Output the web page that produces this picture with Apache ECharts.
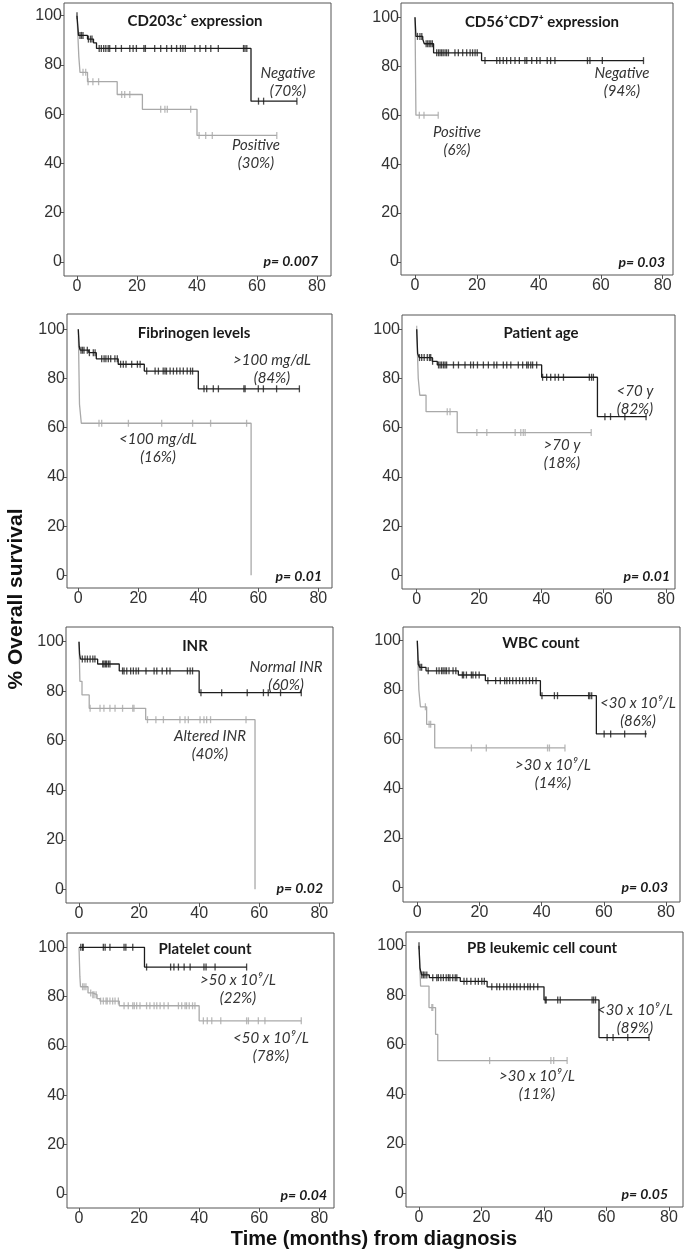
<!DOCTYPE html>
<html>
<head>
<meta charset="utf-8">
<script src="https://cdn.jsdelivr.net/npm/echarts@6/dist/echarts.min.js"></script>
<style>
html,body{margin:0;padding:0;background:#fff;}
#chart{width:685px;height:1251px;}
</style>
</head>
<body>
<div id="chart"></div>
<script>
// ---------------- DATA ----------------
const xTicks = [0, 20, 40, 60, 80];
const yTicks = [0, 20, 40, 60, 80, 100];
const panelTitles = ['CD203c\u207A expression', 'CD56\u207ACD7\u207A expression', 'Fibrinogen levels', 'Patient age',
  'INR', 'WBC count', 'Platelet count', 'PB leukemic cell count'];
const pValues = ['p= 0.007', 'p= 0.03', 'p= 0.01', 'p= 0.01', 'p= 0.02', 'p= 0.03', 'p= 0.04', 'p= 0.05'];
const blackLabels = [['Negative', '(70%)'], ['Negative', '(94%)'], ['>100 mg/dL', '(84%)'], ['<70 y', '(82%)'],
  ['Normal INR', '(60%)'], ['<30 x 10\u2079/L', '(86%)'], ['>50 x 10\u2079/L', '(22%)'], ['<30 x 10\u2079/L', '(89%)']];
const grayLabels = [['Positive', '(30%)'], ['Positive', '(6%)'], ['<100 mg/dL', '(16%)'], ['>70 y', '(18%)'],
  ['Altered INR', '(40%)'], ['>30 x 10\u2079/L', '(14%)'], ['<50 x 10\u2079/L', '(78%)'], ['>30 x 10\u2079/L', '(11%)']];

// Step curves: [time (months), survival % from that time on]
const p1BlackSteps = [[0,100],[0.5,92],[3.5,90.5],[5.5,89],[6.5,86.7],[58,65.3],[73.3,65.3]];
const p1BlackCens = [0,1,1.5,2,3.8,4.5,5,7.4,8.1,8.9,9.6,10.4,10.9,12.9,14.8,17.6,18.7,19.8,22.3,22.8,25.9,27.9,29.9,31.5,33.2,34.5,35.3,36.1,39.3,41,42.9,44.6,47.1,55.5,56,56.6,60.5,62.2,73.3];
const p1GraySteps = [[0,100],[0.6,83.5],[1,77],[3.5,73.2],[13.4,68],[21.8,62],[40,51.4],[66.6,51.4]];
const p1GrayCens = [2,2.9,3.7,5.3,7.2,14.9,15.9,17.6,27.9,29.3,30.1,37.9,40.7,42.9,45.1,66.6];

const p2BlackSteps = [[0,100],[0.3,92.2],[2.5,91],[3,89.2],[6,85.5],[21.5,82.3],[73.8,82.3]];
const p2BlackCens = [0.8,1.6,2.2,3.6,4.1,4.6,5.1,5.6,7,7.6,8.1,8.6,9.1,9.7,10.2,10.8,12.9,14,15.4,16.7,17.8,18.6,19.4,20.1,22.6,26.4,27.4,28.5,29.6,30.9,32.3,33.7,35.5,36.1,37.7,39.3,40.4,42.7,43.8,45.2,55.7,56.5,60.5,73.8];
const p2GraySteps = [[0,100],[0.3,60],[7.5,60]];
const p2GrayCens = [1.4,2.9,7.5];

const p3BlackSteps = [[0,100],[0.3,93],[0.6,91.5],[3.5,90.5],[6,88],[13.3,85.8],[22,83],[40,75.8],[73.7,75.8]];
const p3BlackCens = [0.9,1.4,1.9,3,3.7,5,5.6,7.8,8.6,9.2,10,10.8,12.2,13,14.1,15,15.9,17.8,19.7,20.6,22.8,25.6,26.7,28.3,28.9,29.4,30.6,31.7,32.8,33.9,35,36.3,37.4,38.1,41.9,42.8,45,46.7,55.2,55.6,60,61.7,66.1,73.7];
const p3GraySteps = [[0,100],[0.4,69.5],[1,61.8],[57.6,0]];
const p3GrayCens = [6.9,7.8,16.7,27.8,38.1,44.1,56.1];

const p4BlackSteps = [[0,100],[0.3,90.2],[0.8,88.5],[5,87],[6.6,85.5],[40.1,80.5],[58,64.5],[73.7,64.5]];
const p4BlackCens = [0.9,1.6,2.4,3.4,4.1,4.5,5.1,7,7.5,8,8.6,9.1,9.6,11.8,13.4,15.5,17.3,18.2,19.5,21.4,23,24.8,25.7,27.8,28.9,30.2,32.6,34,35.3,35.8,36.6,37.2,38.5,40.4,41.7,43,44.4,45.5,47.1,55.4,56.1,56.7,60.4,62.2,66.8,73.6];
const p4GraySteps = [[0,100],[0.5,80],[1,73.2],[3,66.5],[13,58],[56,58]];
const p4GrayCens = [0,9.8,10.7,19.3,22.5,31.6,33.4,34.2,34.8,56];

const p5BlackSteps = [[0,100],[0.2,95],[0.5,93],[6.2,91],[13.4,88.2],[40,79.4],[74,79.4]];
const p5BlackCens = [1.1,2,2.8,3.7,4.6,5.3,7.9,8.3,8.8,9.2,9.8,10.3,14.5,15,15.9,17.2,18.1,19,19.8,22.3,25,25.9,27.7,29.2,30.3,36.1,37,37.8,40.6,47.5,56,61.4,63,67.1,74];
const p5GraySteps = [[0,100],[0.3,84],[1,78.5],[3.4,73.1],[22.2,68.5],[58.6,0]];
const p5GrayCens = [3.7,7,8.3,10.3,12,14.5,17.9,18.3,22.8,25.6,28.1,33.6,35.3,36.4,40.3,41.6,42.5,43.8,55.6];

const p6BlackSteps = [[0,100],[0.3,90.5],[0.8,89.2],[2.8,87.8],[13.2,86.1],[21.9,83.8],[39.6,77.7],[57.6,62.2],[73.8,62.2]];
const p6BlackCens = [0.5,0.9,1.4,3.5,6.2,7,7.8,8.3,8.9,9.4,10.2,11.5,12.4,14.5,14.9,15.8,17.4,17.9,18.8,19.9,22.7,25.2,26.7,28.1,28.8,29.7,30.7,31.8,32.9,33.9,35,36.1,37.1,38.2,40.1,44.1,45.1,55.1,55.5,56.1,60.1,62.2,66.7,73.4];
const p6GraySteps = [[0,100],[0.5,80],[1,73.2],[3,66.1],[5.6,56.5],[47.5,56.5]];
const p6GrayCens = [2.6,3.8,4.3,17.4,22.2,41.9,42.5,47.5];

const p7BlackSteps = [[0,100],[21.8,92],[55.8,92]];
const p7BlackCens = [0.6,1.2,1.4,8.1,8.7,10.3,15,15.6,17.9,22.5,30.5,31.6,33.1,35,37,41.6,42.3,45.3,55.8];
const p7GraySteps = [[0,100],[0.3,88],[0.5,84],[3,81.5],[4.5,80.8],[6,79.2],[7,78.2],[13.4,76.3],[40,70.2],[74,70.2]];
const p7GrayCens = [1.2,1.7,2.3,3.9,4.6,5,5.7,7.2,8.1,9,9.4,10.3,11.2,12,13.1,15,16.4,17.9,18.4,19.2,20.3,22.5,23.6,25,25.9,27,28.3,29.7,33.1,34.2,35.3,35.8,36.7,37.8,38.6,41.4,42.7,44.2,47.2,55.8,56.4,59.7,61.9,74];

const p8BlackSteps = [[0,100],[0.3,91],[0.8,88.2],[3.3,87.1],[13.2,85.6],[21.8,83.4],[40,78.1],[57.6,62.9],[73.6,62.9]];
const p8BlackCens = [0,0.9,1.4,1.9,2.5,4.4,5.7,6.2,7,7.8,8.7,9.4,9.9,10.8,11.6,12.1,14.4,15.3,16.6,18,19,20.1,20.9,23.3,24.9,25.8,27.1,28.1,29.2,30.3,31.3,32.4,33.7,34.8,35.6,36.7,38,40.4,40.7,44.4,45.2,55.4,55.9,56.5,60.2,62.1,66.8,73.6];
const p8GraySteps = [[0,100],[0.5,83.7],[3.2,75],[5.3,64.2],[6,53.6],[47.4,53.6]];
const p8GrayCens = [4.1,4.4,22.6,42.2,43.1,47.4];

const blackSteps = [p1BlackSteps,p2BlackSteps,p3BlackSteps,p4BlackSteps,p5BlackSteps,p6BlackSteps,p7BlackSteps,p8BlackSteps];
const blackCens = [p1BlackCens,p2BlackCens,p3BlackCens,p4BlackCens,p5BlackCens,p6BlackCens,p7BlackCens,p8BlackCens];
const graySteps = [p1GraySteps,p2GraySteps,p3GraySteps,p4GraySteps,p5GraySteps,p6GraySteps,p7GraySteps,p8GraySteps];
const grayCens = [p1GrayCens,p2GrayCens,p3GrayCens,p4GrayCens,p5GrayCens,p6GrayCens,p7GrayCens,p8GrayCens];

// ---------------- LAYOUT (pixels) ----------------
// box [left, top, right, bottom], tick pixel positions [x of 0, x of 80, y of 100, y of 0]
const boxes = [[64,3,331,276],[401,3,673,275],[67,314,332,588],[402,315,675,589],
               [66,627,333,903],[403,627,680,902],[67,933,334,1208],[406,932,683,1207]];
const tickPx = [[77,317,15.7,262],[415,662.7,17.3,262],[78.3,318.3,329.3,575.3],[416.7,666,329.3,575.3],
                [79,319.3,641.7,889.3],[417.3,666,640.7,887.3],[79,319.3,947.3,1194],[419,669,945.7,1193.3]];
const titlePos = [[195,21],[542,22],[194,333],[541,333],[195,646],[541,643],[205,949],[542,948]];
const pPos = [[318,261],[665,262],[322,576],[670,576],[323,888],[668,887],[327,1195],[668,1194]];
const blackLabPos = [[288,73],[622,73],[272,360],[635,391],[286,667],[638,703],[238,980],[635,1010]];
const grayLabPos = [[256,145],[457,132],[158,439],[562,445],[210,736],[553,765],[271,1038],[537,1076]];

const BLACK = '#1c1c1c', GRAY = '#a9a9a9';

function survAt(steps, t) {
  let v = steps[0][1];
  for (const s of steps) { if (s[0] <= t + 1e-9) v = s[1]; }
  return v;
}

const grids = [], xAxes = [], yAxes = [], series = [], graphics = [];
for (let i = 0; i < 8; i++) {
  const [bl, bt, br, bb] = boxes[i];
  const [x0, x80, y100, y0] = tickPx[i];
  const ppx = (x80 - x0) / 80, ppy = (y0 - y100) / 100;
  grids.push({ left: bl, top: bt, width: br - bl, height: bb - bt, show: true,
    borderColor: '#555', borderWidth: 1, backgroundColor: 'transparent' });
  xAxes.push({ type: 'value', gridIndex: i, min: (bl - x0) / ppx, max: (br - x0) / ppx,
    splitLine: { show: false }, axisLine: { show: false, onZero: false },
    axisTick: { show: true, customValues: xTicks, length: 4, lineStyle: { color: '#555' } },
    axisLabel: { customValues: xTicks, fontSize: 16, color: '#333', fontFamily: 'Liberation Sans', margin: 3 } });
  yAxes.push({ type: 'value', gridIndex: i, min: -(bb - y0) / ppy, max: 100 + (y100 - bt) / ppy,
    splitLine: { show: false }, axisLine: { show: false, onZero: false },
    axisTick: { show: true, customValues: yTicks, length: 4, lineStyle: { color: '#555' } },
    axisLabel: { customValues: yTicks, fontSize: 16, color: '#333', fontFamily: 'Liberation Sans', margin: 2 } });
  const groups = [[graySteps[i], grayCens[i], GRAY], [blackSteps[i], blackCens[i], BLACK]];
  for (const [st, ce, col] of groups) {
    series.push({ type: 'line', xAxisIndex: i, yAxisIndex: i, step: 'end', data: st,
      showSymbol: false, symbol: 'none', lineStyle: { color: col, width: 1.3 }, silent: true, animation: false });
    series.push({ type: 'scatter', xAxisIndex: i, yAxisIndex: i, data: ce.map(t => [t, survAt(st, t)]),
      symbol: 'rect', symbolSize: [1.3, 7], itemStyle: { color: col }, silent: true, animation: false });
  }
  graphics.push({ type: 'text', x: titlePos[i][0], y: titlePos[i][1],
    style: { text: panelTitles[i], font: 'bold 15px Lato', fill: '#1a1a1a', textAlign: 'center', textVerticalAlign: 'middle' } });
  graphics.push({ type: 'text', x: pPos[i][0], y: pPos[i][1],
    style: { text: pValues[i], font: 'italic bold 14px Lato', fill: '#1a1a1a', textAlign: 'right', textVerticalAlign: 'middle' } });
  const labs = [[blackLabels[i], blackLabPos[i]], [grayLabels[i], grayLabPos[i]]];
  for (const [txt, pos] of labs) {
    for (let k = 0; k < 2; k++) {
      graphics.push({ type: 'text', x: pos[0], y: pos[1] + k * 18,
        style: { text: txt[k], font: 'italic 15px Lato', fill: '#333', textAlign: 'center', textVerticalAlign: 'middle' } });
    }
  }
}
graphics.push({ type: 'text', x: 16, y: 599, rotation: Math.PI / 2,
  style: { text: '% Overall survival', font: 'bold 21px "Liberation Sans"', fill: '#111', textAlign: 'center', textVerticalAlign: 'middle' } });
graphics.push({ type: 'text', x: 374, y: 1239,
  style: { text: 'Time (months) from diagnosis', font: 'bold 20px "Liberation Sans"', fill: '#111', textAlign: 'center', textVerticalAlign: 'middle' } });

const chart = echarts.init(document.getElementById('chart'), null, { renderer: 'canvas' });
chart.setOption({ animation: false, backgroundColor: '#fff', grid: grids, xAxis: xAxes, yAxis: yAxes, series, graphic: graphics });
</script>
</body>
</html>
